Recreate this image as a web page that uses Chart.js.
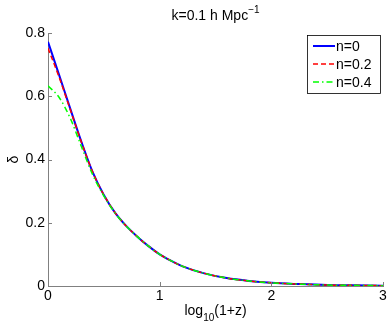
<!DOCTYPE html>
<html>
<head>
    <title>k=0.1 h Mpc-1</title>
    <style>
        body {
            margin: 0;
            padding: 0;
            background: #ffffff;
        }
        #chart-container {
            width: 389px;
            height: 327px;
        }
    </style>
    <script src="https://cdn.jsdelivr.net/npm/chart.js"></script>
</head>
<body>
    <div id="chart-container">
        <canvas id="deltaChart" width="389" height="327"></canvas>
    </div>
    <script>
        // log10(1+z) sample points
        const logZ = [0, 0.1, 0.2, 0.3, 0.4, 0.5, 0.6, 0.7, 0.8, 0.9, 1.0, 1.1, 1.2, 1.4, 1.6, 1.8, 2.0, 2.25, 2.5, 2.75, 3.0];
        // delta for each n
        const deltaN0  = [0.772, 0.667, 0.560, 0.455, 0.360, 0.288, 0.232, 0.190, 0.156, 0.126, 0.100, 0.080, 0.063, 0.040, 0.025, 0.016, 0.010, 0.006, 0.003, 0.002, 0.001];
        const deltaN02 = [0.752, 0.660, 0.557, 0.454, 0.360, 0.288, 0.232, 0.190, 0.156, 0.126, 0.100, 0.080, 0.063, 0.040, 0.025, 0.016, 0.010, 0.006, 0.003, 0.002, 0.001];
        const deltaN04 = [0.633, 0.596, 0.530, 0.440, 0.352, 0.285, 0.231, 0.190, 0.156, 0.126, 0.100, 0.080, 0.063, 0.040, 0.025, 0.016, 0.010, 0.006, 0.003, 0.002, 0.001];
        const seriesNames = ['n=0', 'n=0.2', 'n=0.4'];
        const xTicks = [0, 1, 2, 3];
        const yTicks = [0, 0.2, 0.4, 0.6, 0.8];

        const FONT = "'Liberation Sans', Arial, sans-serif";

        function toPoints(ys) {
            return logZ.map((x, i) => ({ x: x, y: ys[i] }));
        }

        const lineStyles = [
            { color: '#0000ff', width: 2, dash: [] },
            { color: '#ff0000', width: 1.5, dash: [5, 3] },
            { color: '#00ff00', width: 1.5, dash: [6, 3, 1.5, 3] }
        ];

        // matlab style: inward ticks, boxed legend, sub/superscript labels
        const decorations = {
            id: 'decorations',
            afterDraw(chart) {
                const ctx = chart.ctx;
                const xs = chart.scales.x;
                const ys = chart.scales.y;
                const area = chart.chartArea;
                ctx.save();

                // inward tick marks
                ctx.strokeStyle = '#808080';
                ctx.lineWidth = 1;
                ctx.beginPath();
                xTicks.forEach(v => {
                    const px = Math.round(xs.getPixelForValue(v)) + 0.5;
                    ctx.moveTo(px, area.bottom);
                    ctx.lineTo(px, area.bottom - 4);
                });
                yTicks.forEach(v => {
                    const py = Math.round(ys.getPixelForValue(v)) + 0.5;
                    ctx.moveTo(area.left, py);
                    ctx.lineTo(area.left + 4, py);
                });
                ctx.stroke();

                ctx.fillStyle = '#000';
                ctx.textBaseline = 'alphabetic';

                // title
                const cx = (area.left + area.right) / 2;
                const main = 'k=0.1 h Mpc';
                const sup = '\u22121';
                ctx.font = '10px ' + FONT;
                const supW = ctx.measureText(sup).width;
                ctx.font = '14px ' + FONT;
                const mainW = ctx.measureText(main).width;
                let tx = cx - (mainW + supW) / 2;
                ctx.textAlign = 'left';
                ctx.fillText(main, tx, 20);
                ctx.font = '10px ' + FONT;
                ctx.fillText(sup, tx + mainW, 13);

                // x axis title
                ctx.font = '14px ' + FONT;
                const p1 = 'log', p3 = '(1+z)';
                const w1 = ctx.measureText(p1).width;
                const w3 = ctx.measureText(p3).width;
                ctx.font = '10px ' + FONT;
                const p2 = '10';
                const w2 = ctx.measureText(p2).width;
                tx = cx - (w1 + w2 + w3) / 2;
                ctx.font = '14px ' + FONT;
                ctx.fillText(p1, tx, 315);
                ctx.fillText(p3, tx + w1 + w2, 315);
                ctx.font = '10px ' + FONT;
                ctx.fillText(p2, tx + w1, 321);

                // y axis title
                ctx.save();
                ctx.translate(18, (area.top + area.bottom) / 2);
                ctx.rotate(-Math.PI / 2);
                ctx.font = '14px ' + FONT;
                ctx.textAlign = 'center';
                ctx.fillText('\u03b4', 0, 0);
                ctx.restore();

                // legend box
                const bx = 307.5, by = 35.5, bw = 73, bh = 58;
                ctx.fillStyle = '#fff';
                ctx.fillRect(bx, by, bw, bh);
                ctx.strokeStyle = '#000';
                ctx.lineWidth = 0.8;
                ctx.strokeRect(bx, by, bw, bh);
                ctx.font = '14px ' + FONT;
                ctx.textAlign = 'left';
                ctx.textBaseline = 'middle';
                seriesNames.forEach((name, i) => {
                    const ly = 46 + i * 18;
                    const st = lineStyles[i];
                    ctx.beginPath();
                    ctx.strokeStyle = st.color;
                    ctx.lineWidth = st.width;
                    ctx.setLineDash(st.dash);
                    ctx.moveTo(313, ly);
                    ctx.lineTo(335, ly);
                    ctx.stroke();
                    ctx.setLineDash([]);
                    ctx.fillStyle = '#000';
                    ctx.fillText(name, 336, ly + 1);
                });

                ctx.restore();
            }
        };

        const datasets = [deltaN0, deltaN02, deltaN04].map((ys, i) => ({
            label: seriesNames[i],
            data: toPoints(ys),
            borderColor: lineStyles[i].color,
            borderWidth: lineStyles[i].width,
            borderDash: lineStyles[i].dash,
            pointRadius: 0,
            fill: false,
            cubicInterpolationMode: 'monotone',
            order: 3 - i
        }));

        new Chart(document.getElementById('deltaChart'), {
            type: 'scatter',
            data: { datasets: datasets },
            options: {
                responsive: false,
                animation: false,
                showLine: true,
                layout: {
                    padding: { top: 33, right: 6, left: 0, bottom: 0 }
                },
                plugins: {
                    legend: { display: false },
                    title: { display: false },
                    tooltip: { enabled: false }
                },
                scales: {
                    x: {
                        type: 'linear',
                        min: 0,
                        max: 3,
                        grid: { display: false, drawTicks: false },
                        border: { display: true, color: '#808080', width: 1 },
                        ticks: {
                            stepSize: 1,
                            padding: 2,
                            color: '#000',
                            font: { size: 14, family: FONT },
                            maxRotation: 0,
                            callback: v => xTicks.includes(v) ? String(v) : ''
                        },
                        afterFit(scale) { scale.height = 41; }
                    },
                    y: {
                        type: 'linear',
                        min: 0,
                        max: 0.8,
                        grid: { display: false, drawTicks: false },
                        border: { display: true, color: '#808080', width: 1 },
                        ticks: {
                            stepSize: 0.2,
                            padding: 3,
                            color: '#000',
                            font: { size: 14, family: FONT },
                            callback: v => {
                                const t = yTicks.find(y => Math.abs(y - v) < 1e-9);
                                return t === undefined ? '' : String(t);
                            }
                        },
                        afterFit(scale) { scale.width = 48; }
                    }
                }
            },
            plugins: [decorations]
        });
    </script>
</body>
</html>
